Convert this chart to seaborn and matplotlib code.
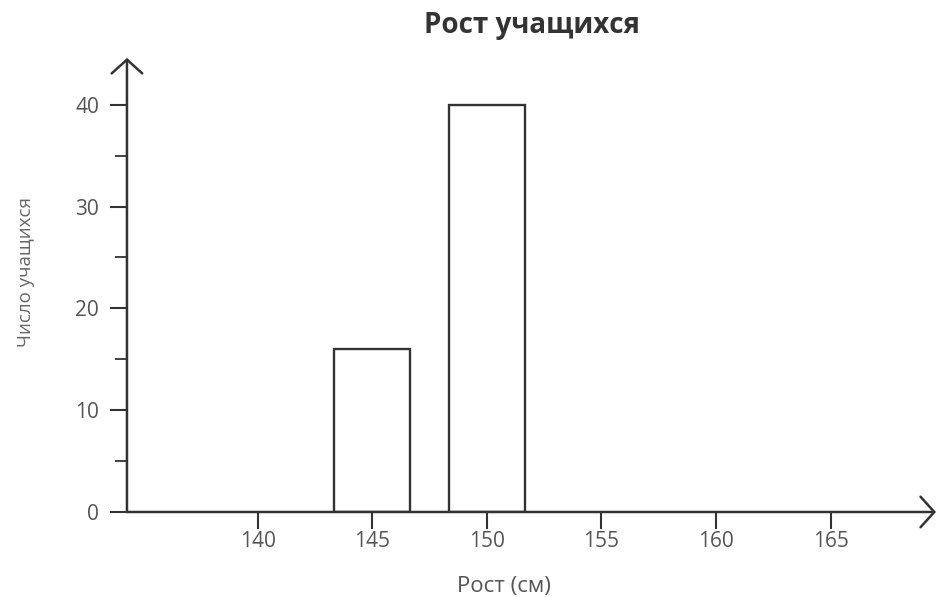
import numpy as np
import pandas as pd
import seaborn as sns
from matplotlib import pyplot as plt

# heights (cm) and number of students
heights = [145, 150]
counts = [16, 40]
x_ticks = [140, 145, 150, 155, 160, 165]
y_ticks = [0, 10, 20, 30, 40]
y_minor = [5, 15, 25, 35]

df = pd.DataFrame({"height": heights, "count": counts})

sns.set_style("white")
plt.rcParams['font.family'] = ['Open Sans', 'DejaVu Sans']

ink = "#333333"
txt = "#555555"
fig = plt.figure(figsize=(9.37, 5.97), dpi=100)
ax = fig.add_axes([0.1355, 0.1424, 0.8634, 0.7605])

sns.barplot(data=df, x="height", y="count", native_scale=True, width=0.66,
            color="white", edgecolor=ink, linewidth=1.7, ax=ax)

ax.set_xlim(134.3, 169.6)
ax.set_ylim(0, 44.6)
ax.set_xticks(x_ticks)
ax.set_yticks(y_ticks)
ax.set_yticks(y_minor, minor=True)

# axes drawn as arrows instead of spines
sns.despine(ax=ax, left=True, bottom=True)
arrow = dict(arrowstyle="->,head_length=0.45,head_width=0.5", lw=1.8,
             color=ink, mutation_scale=22, shrinkA=0, shrinkB=0)
ax.annotate("", xy=(0, 1.0), xytext=(0, 0), xycoords="axes fraction",
            arrowprops=arrow, annotation_clip=False)
ax.annotate("", xy=(1.0, 0), xytext=(0, 0), xycoords="axes fraction",
            arrowprops=arrow, annotation_clip=False)

ax.tick_params(axis="y", which="major", direction="out", length=12, width=1.5,
               color=ink, labelsize=15, labelcolor=txt, pad=8, left=True)
ax.tick_params(axis="y", which="minor", direction="out", length=9, width=1.3,
               color=ink, left=True)
ax.tick_params(axis="x", direction="out", length=12, width=1.5, color=ink,
               labelsize=15, labelcolor=txt, pad=2, bottom=True)

ax.set_title("Рост учащихся", fontsize=20, fontweight="bold", color=ink,
             pad=18)
ax.set_xlabel("Рост (см)", fontsize=16, color=txt)
ax.xaxis.set_label_coords(0.466, -0.14)
ax.set_ylabel("Число учащихся", fontsize=13.5, color="#666666")
ax.yaxis.set_label_coords(-0.114, 0.529)

fig.savefig("out.png", dpi=100)
